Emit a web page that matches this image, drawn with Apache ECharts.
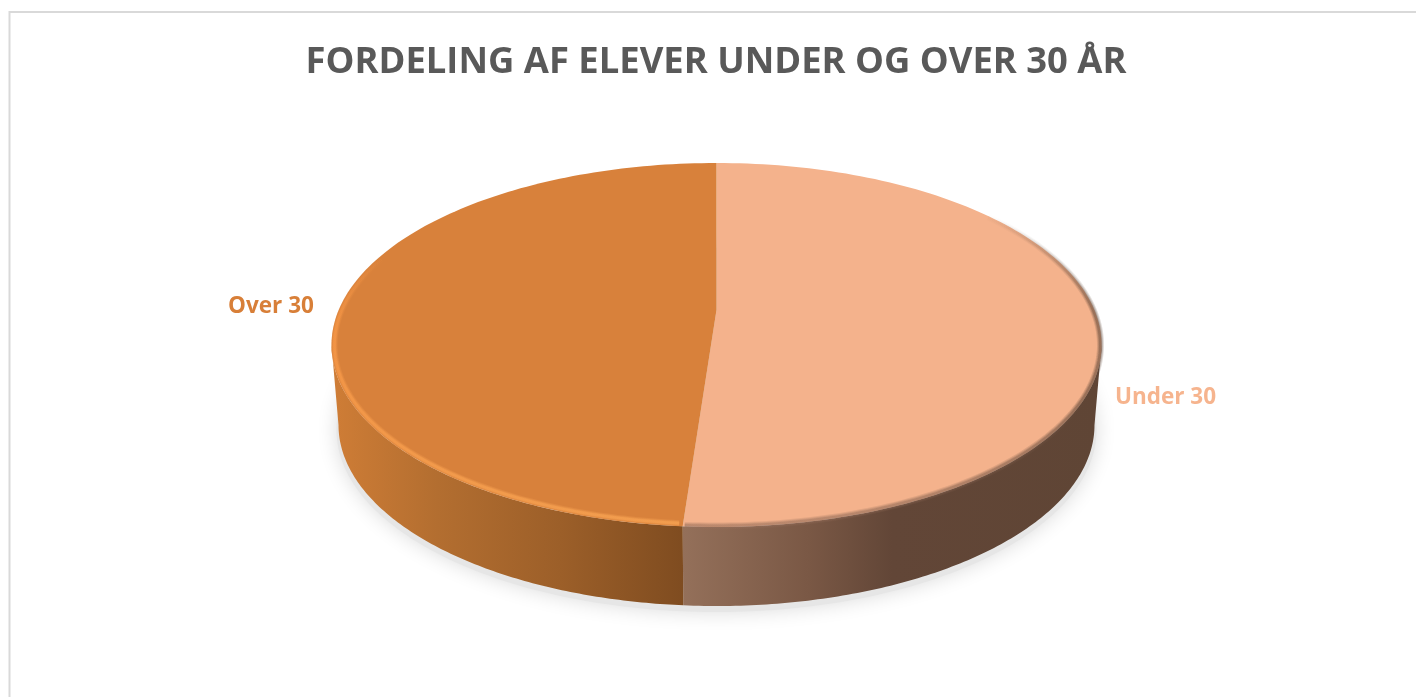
<!DOCTYPE html>
<html>
<head>
<meta charset="utf-8">
<style>html,body{margin:0;padding:0;background:#fff}#c{width:1416px;height:697px}</style>
<script src="https://cdn.jsdelivr.net/npm/echarts@6/dist/echarts.min.js"></script>
</head>
<body>
<div id="c"></div>
<script>
const chartTitle = 'FORDELING AF ELEVER UNDER OG OVER 30 ÅR';
const categories = ['Under 30', 'Over 30'];
const shares = [51.4, 48.6];

const faceColors = ['#f4b28c', '#d8813b'];
const labelColors = ['#f6b48e', '#d87f38'];
const wallStops = [
  [[0, '#94705a'], [0.3, '#7a5845'], [0.5, '#624637'], [1, '#5f4535']],
  [[0, '#cf7d36'], [0.3, '#b36e30'], [0.65, '#9c5f29'], [1, '#7f4c20']]
];
const labelSpots = [[1165.5, 398], [271, 307]];
const PIE = { cx: 716.5, cy: 345, rx: 385, ry: 182, apexY: 310, bcy: 425, brx: 378, bry: 181 };
const total = shares.reduce((a, b) => a + b, 0);

function topPt(t) { return [PIE.cx + PIE.rx * Math.sin(t), PIE.cy - PIE.ry * Math.cos(t)]; }
function botPt(t) { return [PIE.cx + PIE.brx * Math.sin(t), PIE.bcy - PIE.bry * Math.cos(t)]; }
function arc(fn, a, b, n) {
  const out = [];
  for (let i = 0; i <= n; i++) out.push(fn(a + (b - a) * i / n));
  return out;
}
function insetPt(d) {
  return t => [PIE.cx + (PIE.rx - d) * Math.sin(t), PIE.cy - (PIE.ry - d) * Math.cos(t)];
}
function vGradient(stops) {
  return new echarts.graphic.LinearGradient(0, 0, 0, 1, stops.map(s => ({ offset: s[0], color: s[1] })));
}

function renderSlice(params, api) {
  const i = params.dataIndex;
  let before = 0;
  for (let k = 0; k < i; k++) before += shares[k];
  const a0 = before / total * Math.PI * 2;
  const a1 = (before + api.value(1)) / total * Math.PI * 2;
  const children = [];

  // front wall: the part of the slice between 90 and 270 degrees
  const w0 = Math.max(a0, Math.PI / 2), w1 = Math.min(a1, Math.PI * 1.5);
  if (w1 > w0) {
    const pts = arc(topPt, w0, w1, 120).concat(arc(botPt, w1, w0, 120));
    const stops = wallStops[i].map(s => ({ offset: s[0], color: s[1] }));
    children.push({
      type: 'polygon', shape: { points: pts },
      style: { fill: new echarts.graphic.LinearGradient(0, 0, 1, 0, stops) },
      z2: 1
    });
  }

  // top face
  const face = [[PIE.cx, PIE.apexY]].concat(arc(topPt, a0, a1, 160));
  children.push({
    type: 'polygon', shape: { points: face },
    style: { fill: faceColors[i] }, z2: 3
  });

  // soft bevel along the rim
  if (i === 1) {
    const rim = arc(insetPt(3), a0 + 0.01, Math.PI * 1.66, 120);
    [[6, 0.3], [4, 0.45], [2.5, 0.7]].forEach(([w, o]) => {
      children.push({
        type: 'polyline', shape: { points: rim },
        style: { lineWidth: w, fill: null,
          stroke: vGradient([[0, 'rgba(245,150,70,0)'], [0.3, `rgba(245,150,70,${o})`], [1, `rgba(245,160,80,${o})`]]) },
        z2: 4
      });
    });
  } else {
    const rim = arc(insetPt(1), Math.PI * 0.25, a1 - 0.005, 120);
    [[7, 0.18], [5, 0.25], [3, 0.35]].forEach(([w, o]) => {
      children.push({
        type: 'polyline', shape: { points: rim },
        style: { lineWidth: w, fill: null,
          stroke: vGradient([[0, 'rgba(95,70,55,0)'], [0.3, `rgba(95,70,55,${o})`], [0.6, `rgba(95,70,55,${o})`], [1, `rgba(150,110,90,${o})`]]) },
        z2: 4
      });
    });
  }

  // label
  children.push({
    type: 'text', z2: 6,
    style: {
      text: categories[i], x: labelSpots[i][0], y: labelSpots[i][1],
      align: 'center', verticalAlign: 'middle',
      fill: labelColors[i], font: 'bold 22.5px "Open Sans"'
    }
  });
  return { type: 'group', children };
}

const chart = echarts.init(document.getElementById('c'), null, { renderer: 'canvas' });
chart.setOption({
  animation: false,
  backgroundColor: '#fff',
  title: {
    text: chartTitle, left: 711, top: 40, textAlign: 'center',
    textStyle: { color: '#595959', fontSize: 36.4, fontWeight: 'bold', fontFamily: 'Open Sans' }
  },
  graphic: [
    { type: 'polyline', z: 0, silent: true,
      shape: { points: [[9.5, 700], [9.5, 12], [1420, 12]] },
      style: { stroke: '#d9d9d9', lineWidth: 2, fill: null } },
    { type: 'ellipse', z: 0, silent: true,
      shape: { cx: PIE.cx, cy: PIE.bcy + 5, rx: PIE.brx + 2, ry: PIE.bry + 1 },
      style: { fill: '#e6e6e6', shadowBlur: 20, shadowColor: '#dcdcdc' } }
  ],
  series: [{
    type: 'custom',
    coordinateSystem: 'none',
    z: 5,
    silent: true,
    renderItem: renderSlice,
    data: categories.map((c, i) => ({ name: c, value: [i, shares[i]] }))
  }]
});
</script>
</body>
</html>
